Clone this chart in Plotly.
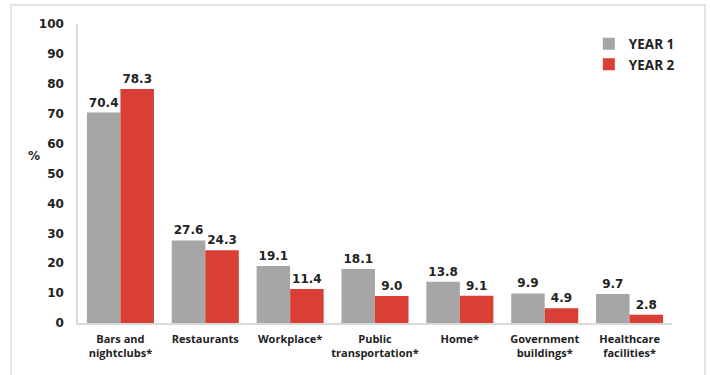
import plotly.graph_objects as go

categories = [
    "Bars and<br>nightclubs*",
    "Restaurants",
    "Workplace*",
    "Public<br>transportation*",
    "Home*",
    "Government<br>buildings*",
    "Healthcare<br>facilities*",
]
year1 = [70.4, 27.6, 19.1, 18.1, 13.8, 9.9, 9.7]
year2 = [78.3, 24.3, 11.4, 9.0, 9.1, 4.9, 2.8]
y_ticks = [0, 10, 20, 30, 40, 50, 60, 70, 80, 90, 100]

FONT = "DejaVu Sans"
LABEL_FONT = "Open Sans"
TEXT = "#222222"

fig = go.Figure()
fig.add_trace(go.Bar(
    name="YEAR 1", x=categories, y=year1,
    marker=dict(color="#A6A6A6", line=dict(width=0)),
    text=[f"{v:.1f}" for v in year1], textposition="outside",
    textfont=dict(family=FONT, size=12, color=TEXT, weight="bold"),
    cliponaxis=False,
))
fig.add_trace(go.Bar(
    name="YEAR 2", x=categories, y=year2,
    marker=dict(color="#D93F35", line=dict(width=0)),
    text=[f"{v:.1f}" for v in year2], textposition="outside",
    textfont=dict(family=FONT, size=12, color=TEXT, weight="bold"),
    cliponaxis=False,
))

fig.update_layout(
    width=710, height=375,
    margin=dict(l=78, r=38, t=24, b=52),
    paper_bgcolor="white", plot_bgcolor="white",
    barmode="group", bargap=0.21, bargroupgap=0,
    font=dict(family=FONT, color=TEXT, size=11),
    showlegend=True,
    legend=dict(
        x=0.86, y=0.985, xanchor="left", yanchor="top",
        font=dict(family=LABEL_FONT, size=13.5, color=TEXT, weight="bold"),
        itemwidth=30, tracegroupgap=2, bgcolor="rgba(0,0,0,0)",
    ),
    xaxis=dict(
        showline=True, linecolor="#D9D9D9", linewidth=1.5,
        ticks="", showgrid=False, tickangle=0, automargin=False,
        ticklabelstandoff=5,
        tickfont=dict(family=LABEL_FONT, size=11, color=TEXT, weight="bold"),
    ),
    yaxis=dict(
        range=[0, 100], tickvals=y_ticks, automargin=False,
        showline=True, linecolor="#D9D9D9", linewidth=1.5,
        showgrid=False, zeroline=False, ticks="",
        ticklabelstandoff=10,
        tickfont=dict(family=FONT, size=12, color=TEXT, weight="bold"),
    ),
    annotations=[dict(
        text="%", xref="paper", yref="paper", x=-0.0875, y=0.5585,
        showarrow=False, font=dict(family=FONT, size=12, color=TEXT, weight="bold"),
    )],
    shapes=[dict(
        type="path", xref="paper", yref="paper",
        path="M -0.1128,-0.3 L -0.1128,1.0635 L 1.0556,1.0635 L 1.0556,-0.3",
        line=dict(color="#D9D9D9", width=1.5),
    )],
)

fig.write_html("out.html")
